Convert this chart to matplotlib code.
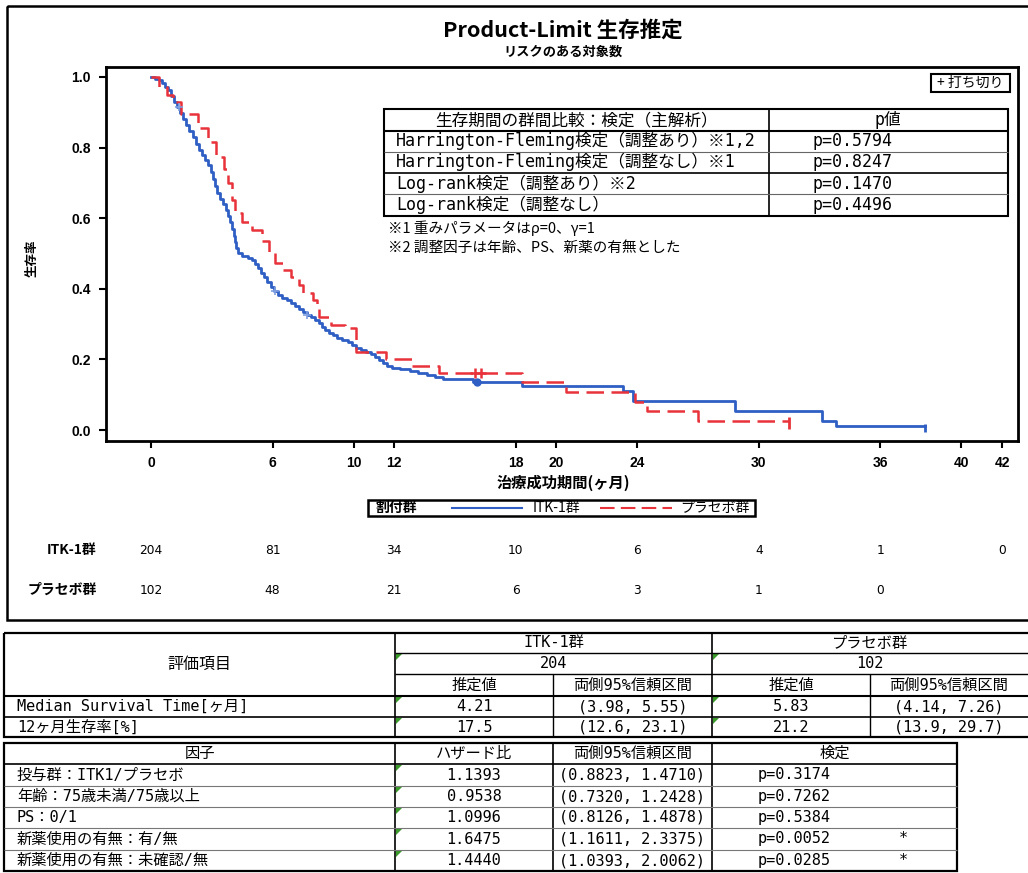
import numpy as np
import matplotlib.pyplot as plt
from matplotlib import transforms
from matplotlib.patches import Rectangle, Polygon

plt.rcParams['font.family'] = ['Noto Sans CJK JP', 'DejaVu Sans']

W, H = 1028, 873

# Kaplan-Meier step estimates (month, survival)
itk_t = [0, 0.2, 0.4, 0.55, 0.7, 0.85, 1.0, 1.15, 1.3, 1.45, 1.6, 1.75, 1.9, 2.05,
         2.2, 2.35, 2.5, 2.65, 2.8, 2.95, 3.05, 3.15, 3.25, 3.4, 3.55, 3.7, 3.8,
         3.9, 4.0, 4.08, 4.15, 4.22, 4.3, 4.5, 4.8, 5.0, 5.15, 5.3, 5.45, 5.6,
         5.75, 5.9, 6.05, 6.25, 6.45, 6.7, 6.9, 7.1, 7.3, 7.5, 7.7, 7.9, 8.1, 8.3,
         8.45, 8.6, 8.8, 9.0, 9.2, 9.45, 9.7, 9.9, 10.1, 10.35, 10.6, 10.85,
         11.05, 11.25, 11.45, 11.65, 11.9, 12.3, 12.8, 13.2, 13.6, 14.0, 14.4,
         15.9, 18.3, 23.3, 23.8, 28.8, 33.1, 33.8]
itk_s = [1.0, 0.995, 0.99, 0.982, 0.972, 0.962, 0.945, 0.93, 0.915, 0.897, 0.882,
         0.865, 0.848, 0.83, 0.81, 0.792, 0.778, 0.765, 0.75, 0.73, 0.712, 0.692,
         0.672, 0.655, 0.64, 0.622, 0.605, 0.588, 0.568, 0.55, 0.532, 0.515, 0.50,
         0.494, 0.488, 0.482, 0.47, 0.458, 0.445, 0.432, 0.418, 0.405, 0.393,
         0.383, 0.375, 0.367, 0.359, 0.35, 0.342, 0.334, 0.327, 0.32, 0.312,
         0.303, 0.292, 0.283, 0.275, 0.268, 0.262, 0.255, 0.248, 0.24, 0.233,
         0.227, 0.222, 0.215, 0.207, 0.198, 0.19, 0.182, 0.176, 0.172, 0.168,
         0.162, 0.157, 0.151, 0.145, 0.137, 0.125, 0.111, 0.083, 0.055, 0.026,
         0.012]
itk_end = 38.2

pla_t = [0, 0.4, 0.8, 1.1, 1.5, 2.3, 2.8, 3.2, 3.6, 3.8, 4.0, 4.15, 4.5, 5.0, 5.5,
         5.8, 6.1, 6.5, 6.9, 7.3, 7.5, 8.0, 8.2, 8.3, 8.9, 9.6, 10.1, 11.6, 12.9,
         14.2, 18.3, 20.5, 23.9, 24.5, 27.0]
pla_s = [1.0, 0.97, 0.95, 0.93, 0.895, 0.855, 0.816, 0.773, 0.74, 0.70, 0.65,
         0.615, 0.59, 0.567, 0.535, 0.50, 0.473, 0.453, 0.433, 0.41, 0.388, 0.368,
         0.345, 0.32, 0.297, 0.289, 0.221, 0.200, 0.180, 0.162, 0.136, 0.107,
         0.080, 0.054, 0.026]
pla_end = 31.5

itk_cens = [1.4, 6.1, 7.7]
itk_cens_dot = [16.1]
pla_cens = [16.0, 16.3]

xticks = [0, 6, 10, 12, 18, 20, 24, 30, 36, 40, 42]
yticks = [0.0, 0.2, 0.4, 0.6, 0.8, 1.0]

risk_t_itk = [0, 6, 12, 18, 24, 30, 36, 42]
risk_itk = [204, 81, 34, 10, 6, 4, 1, 0]
risk_t_pla = [0, 6, 12, 18, 24, 30, 36]
risk_pla = [102, 48, 21, 6, 3, 1, 0]

test_names = ['Harrington-Fleming検定（調整あり）※1,2',
              'Harrington-Fleming検定（調整なし）※1',
              'Log-rank検定（調整あり）※2',
              'Log-rank検定（調整なし）']
test_p = ['p=0.5794', 'p=0.8247', 'p=0.1470', 'p=0.4496']
notes = ['※1 重みパラメータはρ=0、γ=1', '※2 調整因子は年齢、PS、新薬の有無とした']

groups = ['ITK-1群', 'プラセボ群']
group_n = ['204', '102']
eval_items = ['Median Survival Time[ヶ月]', '12ヶ月生存率[%]']
itk_est = ['4.21', '17.5']
itk_ci = ['(3.98, 5.55)', '(12.6, 23.1)']
pla_est = ['5.83', '21.2']
pla_ci = ['(4.14, 7.26)', '(13.9, 29.7)']

factors = ['投与群：ITK1/プラセボ', '年齢：75歳未満/75歳以上', 'PS：0/1',
           '新薬使用の有無：有/無', '新薬使用の有無：未確認/無']
hazard = ['1.1393', '0.9538', '1.0996', '1.6475', '1.4440']
hr_ci = ['(0.8823, 1.4710)', '(0.7320, 1.2428)', '(0.8126, 1.4878)',
         '(1.1611, 2.3375)', '(1.0393, 2.0062)']
hr_p = ['p=0.3174', 'p=0.7262', 'p=0.5384', 'p=0.0052', 'p=0.0285']
hr_sig = ['', '', '', '*', '*']

BLUE = '#2f5fc4'
RED = '#e8333a'
TAB = ['DejaVu Sans Mono', 'Noto Sans CJK JP']


def surv(ts, ss, x):
    i = np.searchsorted(ts, x, side='right') - 1
    return np.asarray(ss)[i]


fig = plt.figure(figsize=(W / 100, H / 100), dpi=100)


def px_axes(x0, y0, x1, y1):
    return [x0 / W, 1 - y1 / H, (x1 - x0) / W, (y1 - y0) / H]


ax = fig.add_axes(px_axes(106, 67, 1018, 441))
ax.step(itk_t + [itk_end], itk_s + [itk_s[-1]], where='post', color=BLUE, lw=2)
ax.step(pla_t + [pla_end], pla_s + [pla_s[-1]], where='post', color=RED, lw=1.8,
        dashes=(7, 3))
ax.plot(itk_cens, surv(itk_t, itk_s, itk_cens), '+', color='#7f9fe0', ms=6, mew=1.2)
ax.plot(itk_cens_dot, surv(itk_t, itk_s, itk_cens_dot), 'o', color=BLUE, ms=5)
ax.plot(pla_cens, surv(pla_t, pla_s, pla_cens), '+', color=RED, ms=7, mew=1.8)
ax.plot([itk_end], [itk_s[-1] - 0.006], '|', color=BLUE, ms=6, mew=2)
ax.plot([pla_end], [pla_s[-1] - 0.006], '|', color=RED, ms=9, mew=2)

ax.set_xlim(-2.22, 42.79)
ax.set_ylim(-0.031, 1.028)
ax.set_xticks(xticks)
ax.set_yticks(yticks)
ax.set_yticklabels([f'{v:.1f}' for v in yticks])
ax.tick_params(direction='out', length=5, width=1.5, labelsize=10, pad=6)
for lab in ax.get_xticklabels() + ax.get_yticklabels():
    lab.set_fontweight('bold')
    lab.set_family('Liberation Sans')
for sp in ax.spines.values():
    sp.set_linewidth(2)

# overlay in pixel coordinates for frames, tables and notes
ov = fig.add_axes([0, 0, 1, 1], zorder=5)
ov.set_xlim(0, W)
ov.set_ylim(H, 0)
ov.axis('off')
ov.patch.set_alpha(0)


def t(x, y, s, ha='center', size=9, fam=None, bold=False, color='black', **kw):
    ov.text(x, y, s, ha=ha, va='center', fontsize=size, family=fam or plt.rcParams['font.family'],
            fontweight='bold' if bold else 'normal', color=color, **kw)


def hline(x0, x1, y, lw=1.0, color='black'):
    ov.plot([x0, x1], [y, y], color=color, lw=lw, solid_capstyle='butt')


def vline(x, y0, y1, lw=1.0, color='black'):
    ov.plot([x, x], [y0, y1], color=color, lw=lw, solid_capstyle='butt')


def tri(x, y):
    ov.add_patch(Polygon([[x, y], [x + 6, y], [x, y + 6]], closed=True,
                         color='#3a9a2a', lw=0))


# outer frame of the graph part
ov.add_patch(Rectangle((7, 6), 1030, 614, fill=False, lw=1.8, ec='black'))

t(563, 30, 'Product-Limit 生存推定', size=15.5, bold=True)
t(563, 52, 'リスクのある対象数', size=9.5, bold=True)
t(32, 258, '生存率', size=9, bold=True, rotation=90)
t(563, 483, '治療成功期間(ヶ月)', size=11, bold=True)

# censoring legend
ov.add_patch(Rectangle((931, 74), 79, 18, fill=False, lw=1.5, ec='black'))
t(970, 83, '+ 打ち切り', size=10)

# comparison table inside plot
ov.add_patch(Rectangle((384, 109), 624, 107, fc='white', ec='black', lw=1.5))
vline(769, 109, 216, lw=1.2)
hline(384, 1008, 130.5, lw=1.5)
for yy, lw, c in zip([151.5, 172.5, 194], [0.8, 1.2, 0.8], ['#666', 'black', '#666']):
    hline(384, 1008, yy, lw=lw, color=c)
t(576, 120, '生存期間の群間比較：検定（主解析）', size=12, fam=TAB)
t(888, 120, 'p値', size=12, fam=TAB)
for i, (nm, pv) in enumerate(zip(test_names, test_p)):
    yc = 141 + i * 21.3
    t(396, yc, nm, ha='left', size=12, fam=TAB)
    t(812, yc, pv, ha='left', size=12, fam=TAB)
t(388, 228, notes[0], ha='left', size=10.5)
t(388, 248, notes[1], ha='left', size=10.5)

# group legend
ov.add_patch(Rectangle((368, 500), 387, 16, fill=False, lw=1.8, ec='black'))
t(375, 508, '割付群', ha='left', size=10, bold=True)
ov.plot([452, 522], [508, 508], color=BLUE, lw=1.5)
t(533, 508, groups[0], ha='left', size=10)
ov.plot([600, 672], [508, 508], color=RED, lw=1.5, dashes=(7, 3))
t(680, 508, groups[1], ha='left', size=10)

# number at risk
tr = transforms.blended_transform_factory(ax.transData, ov.transData)
t(97, 550, groups[0], ha='right', size=10, bold=True)
t(97, 590, groups[1], ha='right', size=10, bold=True)
for x, n in zip(risk_t_itk, risk_itk):
    ov.text(x, 550, str(n), ha='center', va='center', fontsize=8.8, transform=tr,
            family='DejaVu Sans')
for x, n in zip(risk_t_pla, risk_pla):
    ov.text(x, 590, str(n), ha='center', va='center', fontsize=8.8, transform=tr,
            family='DejaVu Sans')

# summary table
X0, XR = 4, 1040
c1, c2, c3, c4 = 395, 553, 712, 870
r = [633, 653, 674, 696, 717, 737]
ov.add_patch(Rectangle((X0, r[0]), XR - X0, r[-1] - r[0], fill=False, lw=1.6, ec='black'))
vline(c1, r[0], r[-1], lw=1.2)
vline(c3, r[0], r[-1], lw=1.2)
vline(c2, r[2], r[-1], lw=1.0)
vline(c4, r[2], r[-1], lw=1.0)
hline(c1, XR, r[1], lw=1.0)
hline(c1, XR, r[2], lw=1.0)
hline(X0, XR, r[3], lw=1.5)
hline(X0, XR, r[4], lw=1.2)
t((X0 + c1) / 2, (r[0] + r[3]) / 2, '評価項目', size=11.5, fam=TAB)
t((c1 + c3) / 2, (r[0] + r[1]) / 2, groups[0], size=11, fam=TAB)
t((c3 + 1028) / 2, (r[0] + r[1]) / 2, groups[1], size=11, fam=TAB)
t((c1 + c3) / 2, (r[1] + r[2]) / 2, group_n[0], size=11, fam=TAB)
t((c3 + 1028) / 2, (r[1] + r[2]) / 2, group_n[1], size=11, fam=TAB)
for xc, s in zip([(c1 + c2) / 2, (c2 + c3) / 2, (c3 + c4) / 2, (c4 + 1028) / 2],
                 ['推定値', '両側95%信頼区間', '推定値', '両側95%信頼区間']):
    t(xc, (r[2] + r[3]) / 2, s, size=11, fam=TAB)
for i in range(2):
    yc = (r[3 + i] + r[4 + i]) / 2
    t(17, yc, eval_items[i], ha='left', size=11, fam=TAB)
    t((c1 + c2) / 2, yc, itk_est[i], size=11, fam=TAB)
    t((c2 + c3) / 2, yc, itk_ci[i], size=11, fam=TAB)
    t((c3 + c4) / 2, yc, pla_est[i], size=11, fam=TAB)
    t((c4 + 1028) / 2, yc, pla_ci[i], size=11, fam=TAB)
for yy in [r[1], r[3], r[4]]:
    tri(c1 + 1, yy + 1)
    tri(c3 + 1, yy + 1)

# hazard ratio table
q = [743, 764, 786, 807, 828, 850, 871]
XE = 957
ov.add_patch(Rectangle((X0, q[0]), XE - X0, q[-1] - q[0], fill=False, lw=1.6, ec='black'))
for xx in [c1, c2, c3]:
    vline(xx, q[0], q[-1], lw=1.2)
hline(X0, XE, q[1], lw=1.2)
for yy in q[2:-1]:
    hline(X0, XE, yy, lw=0.8, color='#777')
t((X0 + c1) / 2, (q[0] + q[1]) / 2, '因子', size=11, fam=TAB)
t((c1 + c2) / 2, (q[0] + q[1]) / 2, 'ハザード比', size=11, fam=TAB)
t((c2 + c3) / 2, (q[0] + q[1]) / 2, '両側95%信頼区間', size=11, fam=TAB)
t((c3 + XE) / 2, (q[0] + q[1]) / 2, '検定', size=11, fam=TAB)
for i in range(5):
    yc = (q[1 + i] + q[2 + i]) / 2
    t(17, yc, factors[i], ha='left', size=11, fam=TAB)
    t((c1 + c2) / 2, yc, hazard[i], size=11, fam=TAB)
    t(559, yc, hr_ci[i], ha='left', size=11, fam=TAB)
    t(758, yc, hr_p[i], ha='left', size=11, fam=TAB)
    if hr_sig[i]:
        t(903, yc, hr_sig[i], size=11, fam=TAB)
    tri(c1 + 1, q[1 + i] + 1)

fig.savefig('out.png', dpi=100)
